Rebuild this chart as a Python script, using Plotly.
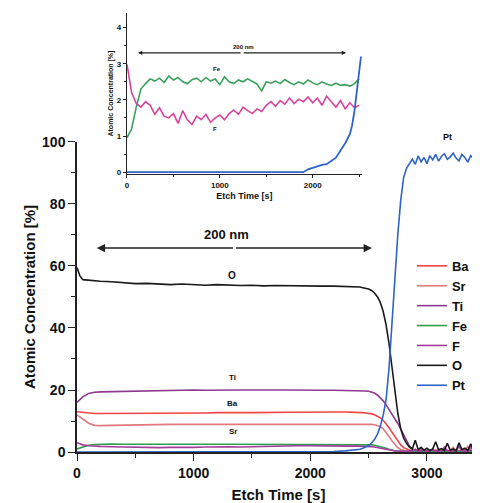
import plotly.graph_objects as go

# ---------------- main depth profile ----------------
etch_time = [0, 25, 50, 100, 150, 200,
             300, 400, 500, 600, 700, 800, 900, 1000, 1100, 1200, 1300, 1400, 1500, 1600,
             1700, 1800, 1900, 2000, 2100, 2200, 2300,
             2400, 2425, 2450, 2475, 2500, 2525, 2550, 2575, 2600, 2625, 2650, 2675, 2700,
             2725, 2750, 2775, 2800, 2825, 2850, 2875, 2900, 2925, 2950, 2975, 3000, 3025,
             3050, 3075, 3100, 3125, 3150, 3175, 3200, 3225, 3250, 3275, 3300, 3325, 3350,
             3375, 3400, 3425, 3450]

ba = [13.0, 12.9, 12.7, 12.5, 12.4, 12.4,
      12.4, 12.5, 12.4, 12.5, 12.5, 12.6, 12.5, 12.6, 12.6, 12.7, 12.6, 12.7, 12.7, 12.8, 12.7, 12.8,
      12.8, 12.9, 12.8, 12.9, 12.9,
      12.9, 12.8, 12.7, 12.6, 12.5, 12.3, 12.0, 11.6, 11.0, 10.2, 9.1, 7.8, 6.4, 4.9, 3.5, 2.3,
      1.4, 0.9, 0.6, 0.4, 0.7, 0.3, 0.5, 0.8, 0.3, 0.5, 0.4, 0.6, 0.3, 0.5, 0.9, 0.4, 0.3, 0.6,
      0.4, 0.5, 0.3, 0.7, 0.4, 0.3, 0.6, 0.4, 0.5]

sr = [12.0, 11.3, 10.5, 9.3, 8.6, 8.5,
      8.6, 8.7, 8.7, 8.8, 8.8, 8.9, 8.9, 8.9, 9.0, 8.9, 9.0, 9.0, 9.0, 9.1, 9.0, 9.1, 9.1, 9.1,
      9.0, 9.1, 9.1,
      9.1, 9.0, 9.0, 9.0, 9.0, 8.9, 8.8, 8.6, 8.2, 7.5, 6.4, 5.0, 3.6, 2.4, 1.4, 0.8, 0.5, 0.3,
      0.4, 0.2, 0.5, 0.3, 1.2, 0.3, 0.4, 0.2, 0.5, 0.3, 0.9, 0.2, 0.4, 0.6, 0.3, 1.5, 0.2, 0.4,
      0.3, 0.6, 1.8, 0.3, 0.4, 0.2, 0.5]

ti = [16.0, 17.0, 17.8, 18.9, 19.3, 19.4,
      19.5, 19.6, 19.7, 19.7, 19.8, 19.8, 19.9, 20.0, 19.9, 20.0, 20.0, 20.0, 20.0, 20.1, 20.0,
      20.0, 19.9, 20.0, 19.9, 19.9, 19.9,
      19.9, 19.8, 19.8, 19.7, 19.6, 19.4, 19.0, 18.4, 17.6, 16.5, 15.2, 13.8, 12.2, 10.7, 9.2,
      7.5, 5.6, 3.6, 1.9, 0.9, 0.5, 0.3, 0.6, 0.2, 0.4, 0.3, 0.7, 0.2, 0.4, 0.3, 0.5, 0.2, 0.6,
      0.3, 0.4, 0.2, 0.5, 0.3, 0.4, 0.6, 0.2, 0.4, 0.3]

fe = [1.0, 1.3, 1.7, 2.2, 2.4, 2.5,
      2.6, 2.5, 2.6, 2.5, 2.5, 2.6, 2.5, 2.5, 2.6, 2.5, 2.5, 2.5, 2.4, 2.5, 2.5, 2.5, 2.4, 2.5,
      2.4, 2.4, 2.4,
      2.4, 2.4, 2.4, 2.4, 2.3, 2.3, 2.2, 2.0, 1.8, 1.5, 1.2, 0.9, 0.6, 0.4, 0.3, 0.2, 0.2, 0.1,
      0.2, 0.1, 0.2, 0.1, 0.1, 0.2, 0.1, 0.1, 0.2, 0.1, 0.2, 0.1, 0.1, 0.2, 0.1, 0.1, 0.2, 0.1,
      0.1, 0.2, 0.1, 0.1, 0.2, 0.1, 0.1]

f = [3.0, 2.6, 2.3, 2.0, 1.8, 1.8,
     1.7, 1.6, 1.5, 1.5, 1.4, 1.5, 1.4, 1.5, 1.6, 1.7, 1.7, 1.6, 1.7, 1.9, 1.9, 2.0, 2.0, 2.0,
     1.9, 2.0, 1.9,
     1.9, 1.9, 1.9, 1.8, 1.8, 1.7, 1.6, 1.4, 1.2, 1.0, 0.8, 0.6, 0.4, 0.3, 0.3, 0.2, 0.3, 0.2,
     0.4, 0.3, 0.9, 0.2, 0.3, 0.6, 0.2, 0.3, 0.8, 0.2, 0.4, 0.3, 1.6, 0.3, 0.2, 0.5, 0.3, 1.9,
     0.3, 0.4, 0.2, 1.7, 0.3, 0.4, 0.9]

o = [59.5, 56.8, 55.6, 55.4, 55.3, 55.1,
     54.9, 54.6, 54.3, 54.4, 54.1, 54.0, 54.2, 53.9, 53.8, 54.0, 53.8, 53.7, 53.8, 53.6, 53.7,
     53.6, 53.7, 53.6, 53.5, 53.5, 53.4,
     53.3, 53.2, 53.0, 52.8, 52.6, 52.1, 51.3, 50.1, 48.3, 45.3, 41.0, 35.0, 27.5, 19.5, 12.5,
     7.5, 4.5, 2.8, 1.6, 1.0, 3.8, 0.8, 1.5, 0.6, 1.2, 0.5, 1.0, 3.3, 0.7, 1.1, 0.5, 2.8, 0.6,
     1.0, 0.4, 3.0, 0.8, 1.2, 0.5, 2.6, 0.7, 1.0, 0.6]

pt = [0, 0, 0, 0, 0, 0,
      0, 0, 0, 0, 0, 0, 0, 0, 0, 0, 0, 0, 0, 0, 0, 0, 0, 0, 0.05, 0.15, 0.35,
      0.7, 0.9, 1.2, 1.6, 2.1, 2.9, 4.0, 5.7, 8.2, 11.8, 17.0, 27.0, 42.0, 57.0, 70.0, 81.0,
      88.5, 91.5, 93.0, 94.5, 92.8, 95.5, 93.6, 95.0, 93.0, 95.6, 94.2, 96.0, 93.8, 95.4, 96.2,
      94.4, 95.2, 96.4, 94.8, 93.9, 96.0, 95.0, 93.5, 95.6, 94.6, 93.8, 95.8]

series_names = ["Ba", "Sr", "Ti", "Fe", "F", "O", "Pt"]
series_values = [ba, sr, ti, fe, f, o, pt]
series_colors = ["#f2434a", "#e0787e", "#8e3b8e", "#2f9e4f", "#a53b9e", "#1a1a1a", "#2f63c8"]

# ---------------- inset (zoom of minor species) ----------------
inset_time = [0, 50, 100, 150, 200, 250, 300, 350, 400, 450, 500, 550, 600, 650, 700, 750,
              800, 850, 900, 950, 1000, 1050, 1100, 1150, 1200, 1250, 1300, 1350, 1400, 1450,
              1500, 1550, 1600, 1650, 1700, 1750, 1800, 1850, 1900, 1950, 2000, 2050, 2100,
              2150, 2200, 2250, 2300, 2350, 2400, 2450, 2500]
inset_fe = [0.95, 1.2, 1.8, 2.3, 2.45, 2.58, 2.52, 2.6, 2.48, 2.66,
            2.55, 2.62, 2.5, 2.45, 2.56, 2.6, 2.5, 2.62, 2.52, 2.58,
            2.42, 2.64, 2.5, 2.45, 2.55, 2.5, 2.58, 2.52, 2.44, 2.25,
            2.5, 2.46, 2.52, 2.45, 2.56, 2.48, 2.42, 2.5, 2.44, 2.55,
            2.47, 2.42, 2.5, 2.44, 2.4, 2.46, 2.4, 2.42, 2.38, 2.45, 2.58]
inset_f = [2.98, 2.2, 1.9, 1.8, 1.95, 1.85, 1.6, 1.78, 1.55, 1.5,
           1.62, 1.35, 1.7, 1.45, 1.32, 1.55, 1.45, 1.6, 1.38, 1.5,
           1.58, 1.45, 1.62, 1.72, 1.6, 1.8, 1.7, 1.62, 1.75, 1.68,
           1.85, 1.95, 1.82, 1.98, 1.88, 2.05, 1.9, 2.02, 1.95, 2.08,
           1.92, 2.05, 1.85, 2.1, 1.95, 1.8, 1.98, 1.75, 1.92, 1.78, 1.85]
inset_pt_time = [0, 1900, 1950, 2000, 2050, 2100, 2150, 2200, 2250, 2300, 2350, 2400,
                 2425, 2450, 2475, 2500, 2520]
inset_pt = [0, 0, 0.08, 0.12, 0.18, 0.2, 0.22, 0.3, 0.4, 0.6, 0.8, 1.05, 1.3, 1.7, 2.2,
            2.85, 3.2]

FONT = "Liberation Sans, Arial, Helvetica, sans-serif"

fig = go.Figure()
for name, vals, col in zip(series_names, series_values, series_colors):
    fig.add_trace(go.Scatter(x=etch_time, y=vals, name=name, mode="lines",
                             line=dict(color=col, width=1.6), xaxis="x", yaxis="y"))

fig.add_trace(go.Scatter(x=inset_time, y=inset_fe, mode="lines", showlegend=False,
                         line=dict(color="#3aa05e", width=1.6), xaxis="x2", yaxis="y2"))
fig.add_trace(go.Scatter(x=inset_time, y=inset_f, mode="lines", showlegend=False,
                         line=dict(color="#d8449c", width=1.6), xaxis="x2", yaxis="y2"))
fig.add_trace(go.Scatter(x=inset_pt_time, y=inset_pt, mode="lines", showlegend=False,
                         line=dict(color="#2f63c8", width=1.8), xaxis="x2", yaxis="y2"))

axis_common = dict(showline=True, linecolor="#222", linewidth=1.5, showgrid=False,
                   zeroline=False, ticks="outside", tickcolor="#222", mirror=False,
                   automargin=False)

main_domain_top = 0.7014

# the page body adds an 8px offset, so the figure is 8px smaller than the window
fig.update_layout(
    width=472, height=495,
    margin=dict(l=69, r=0, t=2, b=51, autoexpand=False),
    paper_bgcolor="white", plot_bgcolor="rgba(0,0,0,0)",
    font=dict(family=FONT, color="#111"),
    xaxis=dict(axis_common, range=[0, 3455], dtick=1000, tick0=0, ticklen=7,
               minor=dict(ticks="outside", dtick=500, tick0=0, ticklen=4, tickcolor="#222"),
               tickfont=dict(size=14, weight="bold", family=FONT),
               title=dict(text="Etch Time [s]", font=dict(size=15, weight="bold", family=FONT),
                          standoff=12),
               anchor="y", domain=[0, 1]),
    yaxis=dict(axis_common, range=[0, 100], dtick=20, tick0=0, ticklen=7,
               minor=dict(ticks="outside", dtick=10, tick0=0, ticklen=4, tickcolor="#222"),
               tickfont=dict(size=14, weight="bold", family=FONT),
               title=dict(text="Atomic Concentration [%]",
                          font=dict(size=15, weight="bold", family=FONT), standoff=3),
               anchor="x", domain=[0, main_domain_top]),
    xaxis2=dict(axis_common, linewidth=1.2, range=[0, 2530], dtick=1000, tick0=0, ticklen=3,
                minor=dict(ticks="outside", dtick=500, tick0=0, ticklen=2, tickcolor="#222"),
                tickfont=dict(size=8, weight="bold", family=FONT),
                title=dict(text="Etch Time [s]", font=dict(size=9, weight="bold", family=FONT),
                           standoff=4),
                anchor="y2", domain=[0.124, 0.707]),
    yaxis2=dict(axis_common, linewidth=1.2, range=[-0.05, 4.4], dtick=1, tick0=0, ticklen=3,
                minor=dict(ticks="outside", dtick=0.5, tick0=0, ticklen=2, tickcolor="#222"),
                tickfont=dict(size=8, weight="bold", family=FONT),
                title=dict(text="Atomic Concentration [%]",
                           font=dict(size=7, weight="bold", family=FONT), standoff=2),
                anchor="x2", domain=[0.629, 0.993]),
    legend=dict(x=0.831, y=0.455, xanchor="left", yanchor="top",
                bgcolor="rgba(0,0,0,0)", borderwidth=0,
                font=dict(size=13, weight="bold", family=FONT, color="#111"),
                tracegroupgap=0, itemwidth=30),
    showlegend=True,
)

ann = []
# 200 nm double arrows (main)
for head in (170, 2528):
    ann.append(dict(x=head, y=65.8, ax=1350, ay=65.8, xref="x", yref="y", axref="x", ayref="y",
                    text="", showarrow=True, arrowhead=2, arrowsize=1.1, arrowwidth=1.5,
                    arrowcolor="#222", standoff=0, startstandoff=0))
ann.append(dict(x=1285, y=70, xref="x", yref="y", text="200 nm", showarrow=False,
                font=dict(size=13, weight="bold", family=FONT)))
# inset double arrow
for head in (118, 2360):
    ann.append(dict(x=head, y=3.3, ax=1240, ay=3.3, xref="x2", yref="y2", axref="x2", ayref="y2",
                    text="", showarrow=True, arrowhead=2, arrowsize=0.8, arrowwidth=1.1,
                    arrowcolor="#222", standoff=0, startstandoff=0))
ann.append(dict(x=1250, y=3.47, xref="x2", yref="y2", text="200 nm", showarrow=False,
                font=dict(size=6, weight="bold", family=FONT)))
# species labels
for txt, xx, yy, sz in [("O", 1328, 56.8, 10), ("Ti", 1330, 24, 8), ("Ba", 1330, 15.5, 8),
                        ("Sr", 1335, 6.5, 8)]:
    ann.append(dict(x=xx, y=yy, xref="x", yref="y", text=txt, showarrow=False,
                    font=dict(size=sz, weight="bold", family=FONT)))
ann.append(dict(x=3180, y=0.728, xref="x", yref="paper", text="Pt", showarrow=False,
                font=dict(size=9, weight="bold", family=FONT)))
for txt, xx, yy in [("Fe", 965, 2.84), ("F", 945, 1.2)]:
    ann.append(dict(x=xx, y=yy, xref="x2", yref="y2", text=txt, showarrow=False,
                    font=dict(size=6, weight="bold", family=FONT)))
fig.update_layout(annotations=ann)

fig.write_html("out.html")
